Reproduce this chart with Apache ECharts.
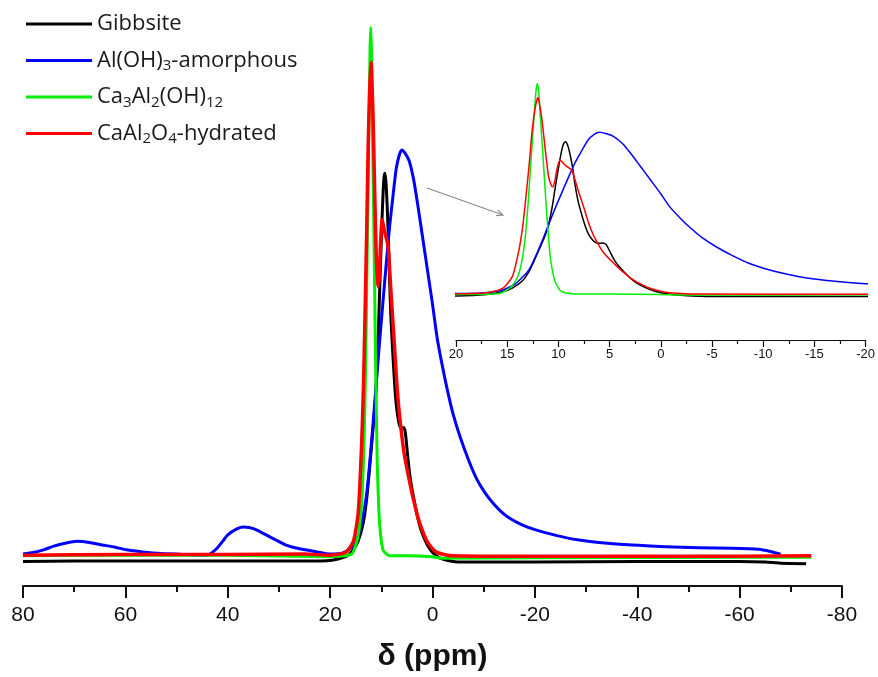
<!DOCTYPE html>
<html>
<head>
<meta charset="utf-8">
<script src="https://cdn.jsdelivr.net/npm/echarts@6/dist/echarts.min.js"></script>
<style>html,body{margin:0;padding:0;background:#fff}#c{width:878px;height:677px}</style>
</head>
<body>
<div id="c"></div>
<script>
// ---- data: [chemical shift (ppm), intensity (a.u.)] ----
const gibbsite = [[80,-0.4],[70,-0.3],[60,-0.3],[50,-0.3],[40,-0.3],[30,-0.3],[25,-0.3],[20,-0.2],[17,0.5],[15.5,1.8],[14.5,3.5],[13.5,7],[12.9,11],[12.4,16],[11.9,21.5],[11.4,27],[11.0,32.5],[10.6,42],[10.3,51.3],[10.0,60],[9.8,65.5],[9.6,70],[9.45,72],[9.3,72.6],[9.1,71],[8.88,67],[8.6,60],[8.4,53],[8.1,45],[7.76,38.8],[7.4,33],[7.1,29.3],[6.8,27],[6.5,25.4],[6.1,24.6],[5.7,24.8],[5.4,24.3],[5.2,23],[4.9,20],[4.55,16.8],[4.1,13.8],[3.6,11.2],[3.0,8.3],[2.3,5.7],[1.4,3.5],[0.4,1.8],[-0.6,0.8],[-1.6,0.2],[-3,-0.2],[-5.4,-0.5],[-20,-0.5],[-40,-0.4],[-60,-0.4],[-65,-0.5],[-68,-0.7],[-73,-0.8]];
const amorphous = [[80,1.0],[78,1.3],[76,1.8],[74,2.5],[72,3.0],[69.5,3.4],[67,3.2],[65,2.8],[62,2.3],[59.8,1.8],[56.6,1.4],[53,1.1],[48,0.9],[45,0.8],[43.5,1.0],[42,2.2],[41,3.4],[40,4.6],[38.5,5.6],[37,6.1],[35.8,6.0],[34.5,5.6],[32.5,4.6],[30.5,3.6],[28.6,2.7],[26,2.0],[23,1.5],[20,1.0],[17.5,1.2],[15.45,2.6],[14.2,5.5],[12.9,12],[12.0,21],[11.3,29.3],[10.5,39],[9.7,48.2],[9.0,56],[8.4,62.4],[7.7,68.5],[7.1,73.4],[6.5,76],[6.0,77.0],[5.3,76.3],[4.55,74.9],[3.7,71.5],[2.95,67.1],[2.0,61],[1.0,54.5],[0,48],[-0.9,41.7],[-1.9,36.5],[-2.8,32.3],[-4,27.4],[-5.4,23],[-7,18.8],[-8.6,15.2],[-10.2,12.6],[-11.8,10.6],[-13.4,9.0],[-15,7.8],[-17.5,6.5],[-20,5.6],[-23,4.8],[-26,4.1],[-29,3.6],[-32.5,3.2],[-39,2.7],[-45.5,2.4],[-52,2.2],[-58.5,2.1],[-63.7,1.9],[-66,1.5],[-68,1.0]];
const katoite = [[80,0.7],[60,0.8],[40,0.8],[20,0.5],[15.8,1.0],[14.8,3.4],[14.3,6],[13.85,10.5],[13.5,18],[13.2,29.3],[12.95,44],[12.72,60.8],[12.4,82.8],[12.2,96],[12.05,100],[11.9,95],[11.76,84.4],[11.44,60.8],[11.12,37.2],[10.8,18.3],[10.55,11],[10.32,6.5],[9.68,1.8],[8.4,0.7],[5,0.7],[0,0.5],[-2,0.2],[-20,0.3],[-60,0.4],[-74,0.4]];
const hydrated = [[80,0.8],[60,0.9],[40,0.9],[25,1.0],[20,0.8],[17,1.3],[15.45,3.4],[14.5,8.9],[13.85,21.5],[13.5,32],[13.2,45.1],[12.85,62],[12.56,78.1],[12.25,89],[12.0,93.5],[11.8,89],[11.6,82.8],[11.28,68.7],[10.96,56.1],[10.7,52],[10.55,51.3],[10.35,54],[10.16,59.2],[9.84,63.9],[9.36,61.6],[8.72,59.2],[8.4,55],[8.08,49.8],[7.44,40.3],[7.0,33.5],[6.5,27.7],[5.54,19.9],[4.26,13.6],[3.4,10],[2.66,7.3],[1.8,5],[1.06,3.4],[0,2.0],[-0.86,1.3],[-3.7,0.7],[-20,0.6],[-40,0.6],[-60,0.6],[-74,0.7]];

const seriesNames = ['Gibbsite', 'Al(OH)3-amorphous', 'Ca3Al2(OH)12', 'CaAl2O4-hydrated'];
const legendLabels = ['Gibbsite', 'Al(OH){s|3}-amorphous', 'Ca{s|3}Al{s|2}(OH){s|12}', 'CaAl{s|2}O{s|4}-hydrated'];
const seriesData = [gibbsite, amorphous, katoite, hydrated];
const colors = ['#000000', '#0000ff', '#00ee00', '#ff0000'];
const mainTicks = { min: -80, max: 80, interval: 20 };
const insetTicks = { min: -20, max: 20, interval: 5 };

const chart = echarts.init(document.getElementById('c'), null, { renderer: 'canvas' });

const series = [];
seriesData.forEach((d, i) => {
  series.push({
    name: seriesNames[i], type: 'line', xAxisIndex: 0, yAxisIndex: 0,
    data: d, symbol: 'none', smooth: 0.2, animation: false,
    lineStyle: { color: colors[i], width: i === 3 ? 3.5 : 3, join: 'round' }, itemStyle: { color: colors[i] }, z: 2 + i
  });
});
seriesData.forEach((d, i) => {
  series.push({
    name: seriesNames[i], type: 'line', xAxisIndex: 1, yAxisIndex: 1,
    data: d, symbol: 'none', smooth: 0.2, animation: false, clip: true,
    lineStyle: { color: colors[i], width: 1.5, join: 'round' }, itemStyle: { color: colors[i] }, z: 2 + i
  });
});

const fmtMap = {};
seriesNames.forEach((n, i) => fmtMap[n] = legendLabels[i]);

// arrow
const a0 = [427, 188], a1 = [503, 215];
const ang = Math.atan2(a1[1] - a0[1], a1[0] - a0[0]);
const hl = 7, hw = 0.42;
const head = [
  [a1[0] - hl * Math.cos(ang - hw), a1[1] - hl * Math.sin(ang - hw)],
  [a1[0], a1[1]],
  [a1[0] - hl * Math.cos(ang + hw), a1[1] - hl * Math.sin(ang + hw)]
];

chart.setOption({
  backgroundColor: '#ffffff',
  animation: false,
  legend: {
    orient: 'vertical', left: 26, top: 11, padding: 0, itemWidth: 66, itemHeight: 3, itemGap: 10.5,
    icon: 'rect',
    data: seriesNames, selectedMode: false,
    formatter: n => fmtMap[n],
    textStyle: {
      fontFamily: 'Open Sans', fontSize: 22, color: '#1a1a1a', lineHeight: 26,
      rich: { s: { fontFamily: 'Open Sans', fontSize: 15, lineHeight: 12, verticalAlign: 'bottom', color: '#1a1a1a' } }
    }
  },
  grid: [
    { left: 23, right: 36, top: 1, bottom: 89 },
    { left: 456, right: 6, top: 73, bottom: 337 }
  ],
  xAxis: [
    {
      gridIndex: 0, type: 'value', inverse: true, min: mainTicks.min, max: mainTicks.max, interval: mainTicks.interval,
      name: 'δ (ppm)', nameLocation: 'middle', nameGap: 56,
      nameTextStyle: { fontFamily: 'Liberation Sans', fontSize: 30, fontWeight: 'bold', color: '#111' },
      axisLine: { show: true, onZero: false, lineStyle: { color: '#111', width: 2 } },
      axisTick: { show: true, inside: false, length: 12, lineStyle: { color: '#111', width: 2 } },
      minorTick: { show: true, splitNumber: 2, length: 6, lineStyle: { color: '#111', width: 2 } },
      axisLabel: { fontFamily: 'Liberation Sans', fontSize: 21, color: '#111', margin: 19 },
      splitLine: { show: false }
    },
    {
      gridIndex: 1, type: 'value', inverse: true, min: insetTicks.min, max: insetTicks.max, interval: insetTicks.interval,
      axisLine: { show: true, onZero: false, lineStyle: { color: '#111', width: 1.2 } },
      axisTick: { show: true, inside: false, length: 7, lineStyle: { color: '#111', width: 1.2 } },
      minorTick: { show: true, splitNumber: 2, length: 4, lineStyle: { color: '#111', width: 1.2 } },
      axisLabel: { fontFamily: 'Liberation Sans', fontSize: 13, color: '#111', margin: 8 },
      splitLine: { show: false }
    }
  ],
  yAxis: [
    { gridIndex: 0, type: 'value', min: -5, max: 105, show: false, splitLine: { show: false } },
    { gridIndex: 1, type: 'value', min: -21, max: 105, show: false, splitLine: { show: false } }
  ],
  graphic: [
    { type: 'line', shape: { x1: a0[0], y1: a0[1], x2: a1[0], y2: a1[1] }, style: { stroke: '#8a8a8a', lineWidth: 1.2 }, z: 10 },
    { type: 'polyline', shape: { points: head }, style: { stroke: '#8a8a8a', lineWidth: 1.2, fill: null }, z: 10 }
  ],
  series: series
});
</script>
</body>
</html>
